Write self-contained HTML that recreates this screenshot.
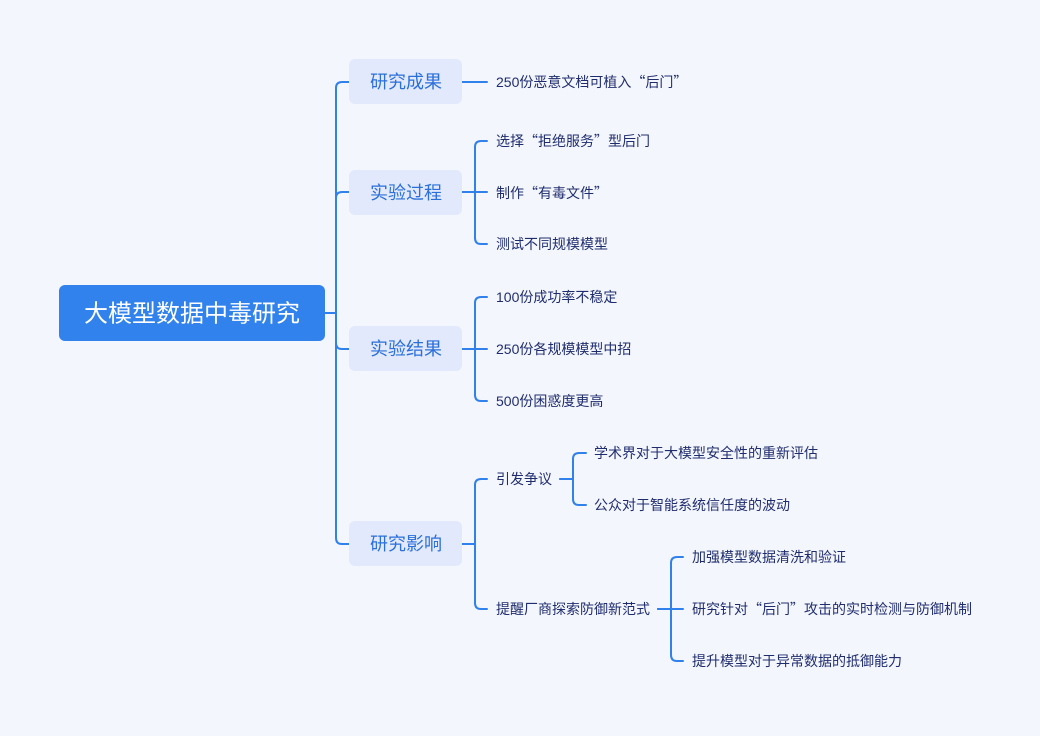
<!DOCTYPE html>
<html><head><meta charset="utf-8">
<style>
html,body{margin:0;padding:0;background:#f4f6fd;}
svg{display:block;}
text{font-family:"Liberation Sans","Noto Sans CJK SC",sans-serif;}
.q{font-family:"Noto Sans CJK SC",sans-serif;}
.leaf{font-size:14px;fill:#1f2d6e;}
.l1{font-size:18px;fill:#2b6fd9;}
</style></head>
<body>
<svg width="1040" height="736" viewBox="0 0 1040 736" xmlns="http://www.w3.org/2000/svg">
<rect width="1040" height="736" fill="#f4f6fd"/>
<g fill="none" stroke="#3181ec" stroke-width="2" stroke-linecap="round">
<!-- root to level1 -->
<path d="M325,313 H336 V88 Q336,82 342,82 H349"/>
<path d="M325,313 H336 V198 Q336,192 342,192 H349"/>
<path d="M325,313 H336 V343 Q336,349 342,349 H349"/>
<path d="M325,313 H336 V538 Q336,544 342,544 H349"/>
<!-- 研究成果 -->
<path d="M462,82 H487"/>
<!-- 实验过程 -->
<path d="M462,192 H475 V147 Q475,141 481,141 H487"/>
<path d="M462,192 H487"/>
<path d="M462,192 H475 V238 Q475,244 481,244 H487"/>
<!-- 实验结果 -->
<path d="M462,349 H475 V303 Q475,297 481,297 H487"/>
<path d="M462,349 H487"/>
<path d="M462,349 H475 V395 Q475,401 481,401 H487"/>
<!-- 研究影响 -->
<path d="M462,544 H475 V485 Q475,479 481,479 H487"/>
<path d="M462,544 H475 V603 Q475,609 481,609 H487"/>
<!-- 引发争议 -->
<path d="M560,479 H573 V459 Q573,453 579,453 H586"/>
<path d="M560,479 H573 V499 Q573,505 579,505 H586"/>
<!-- 提醒 -->
<path d="M658,609 H671 V563 Q671,557 677,557 H683"/>
<path d="M658,609 H683"/>
<path d="M658,609 H671 V655 Q671,661 677,661 H683"/>
</g>
<!-- root -->
<rect x="59" y="285" width="266" height="56" rx="6" fill="#3182ec"/>
<text x="192" y="314" text-anchor="middle" dominant-baseline="central" font-size="24" fill="#ffffff">大模型数据中毒研究</text>
<!-- level1 boxes -->
<g fill="#e2e9fc">
<rect x="349" y="59" width="113" height="45" rx="6"/>
<rect x="349" y="170" width="113" height="45" rx="6"/>
<rect x="349" y="326" width="113" height="45" rx="6"/>
<rect x="349" y="521" width="113" height="45" rx="6"/>
</g>
<g class="l1" text-anchor="middle" dominant-baseline="central">
<text x="406" y="82" class="l1" text-anchor="middle" dominant-baseline="central">研究成果</text>
<text x="406" y="193" class="l1" text-anchor="middle" dominant-baseline="central">实验过程</text>
<text x="406" y="349" class="l1" text-anchor="middle" dominant-baseline="central">实验结果</text>
<text x="406" y="544" class="l1" text-anchor="middle" dominant-baseline="central">研究影响</text>
</g>
<!-- leaves -->
<g>
<text x="496" y="82" class="leaf" dominant-baseline="central">250份恶意文档可植入<tspan class="q">“</tspan>后门<tspan class="q">”</tspan></text>
<text x="496" y="141" class="leaf" dominant-baseline="central">选择<tspan class="q">“</tspan>拒绝服务<tspan class="q">”</tspan>型后门</text>
<text x="496" y="193" class="leaf" dominant-baseline="central">制作<tspan class="q">“</tspan>有毒文件<tspan class="q">”</tspan></text>
<text x="496" y="244" class="leaf" dominant-baseline="central">测试不同规模模型</text>
<text x="496" y="297" class="leaf" dominant-baseline="central">100份成功率不稳定</text>
<text x="496" y="349" class="leaf" dominant-baseline="central">250份各规模模型中招</text>
<text x="496" y="401" class="leaf" dominant-baseline="central">500份困惑度更高</text>
<text x="496" y="479" class="leaf" dominant-baseline="central">引发争议</text>
<text x="496" y="609" class="leaf" dominant-baseline="central">提醒厂商探索防御新范式</text>
<text x="594" y="453" class="leaf" dominant-baseline="central">学术界对于大模型安全性的重新评估</text>
<text x="594" y="505" class="leaf" dominant-baseline="central">公众对于智能系统信任度的波动</text>
<text x="692" y="557" class="leaf" dominant-baseline="central">加强模型数据清洗和验证</text>
<text x="692" y="609" class="leaf" dominant-baseline="central">研究针对<tspan class="q">“</tspan>后门<tspan class="q">”</tspan>攻击的实时检测与防御机制</text>
<text x="692" y="661" class="leaf" dominant-baseline="central">提升模型对于异常数据的抵御能力</text>
</g>
</svg>
</body></html>
